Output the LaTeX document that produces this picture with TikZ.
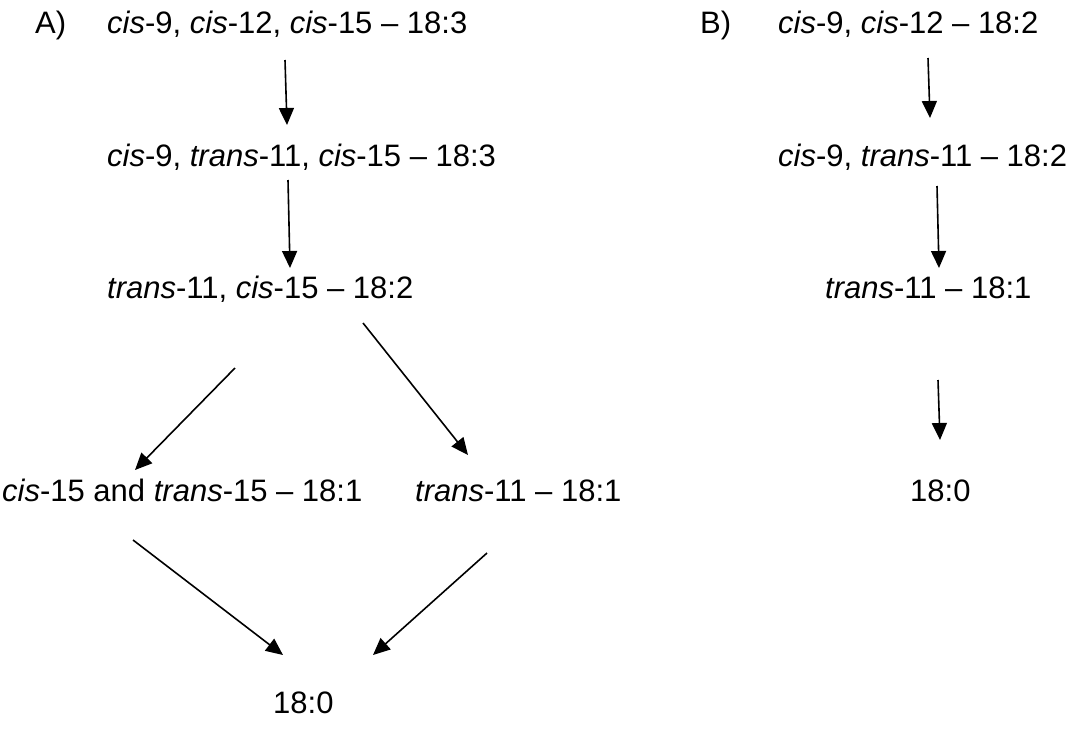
\documentclass[tikz,border=0pt]{standalone}
\usepackage{fontspec}
\setmainfont{Liberation Sans}
\usetikzlibrary{arrows.meta}

\begin{document}
\begin{tikzpicture}[x=1pt,y=-1pt,
  lbl/.style={anchor=base west,inner sep=0pt,font=\fontsize{31}{37}\selectfont},
  conv/.style={line width=1.6pt,-{Triangle[length=17pt,width=15pt]}}]
\useasboundingbox (0,0) rectangle (1087,744);

% panel A
\node[lbl] (tagA) at (35,34) {A)};
\node[lbl] (a1) at (107,34) {\textit{cis}-9, \textit{cis}-12, \textit{cis}-15 -- 18:3};
\node[lbl] (a2) at (107,166) {\textit{cis}-9, \textit{trans}-11, \textit{cis}-15 -- 18:3};
\node[lbl] (a3) at (107,298) {\textit{trans}-11, \textit{cis}-15 -- 18:2};
\node[lbl] (a4) at (2,501) {\textit{cis}-15 and \textit{trans}-15 -- 18:1};
\node[lbl] (a5) at (415,501) {\textit{trans}-11 -- 18:1};
\node[lbl] (a6) at (273,713) {18:0};

% panel B
\node[lbl] (tagB) at (700,34) {B)};
\node[lbl] (b1) at (778,34) {\textit{cis}-9, \textit{cis}-12 -- 18:2};
\node[lbl] (b2) at (778,166) {\textit{cis}-9, \textit{trans}-11 -- 18:2};
\node[lbl] (b3) at (825,298) {\textit{trans}-11 -- 18:1};
\node[lbl] (b4) at (910,501) {18:0};

% arrow end points
\coordinate (a1s) at (285,60);  \coordinate (a2e) at (287,125);
\coordinate (a2s) at (288,180); \coordinate (a3e) at (290,268);
\coordinate (a3l) at (235,368); \coordinate (a4e) at (135,470);
\coordinate (a3r) at (363,323); \coordinate (a5e) at (468,455);
\coordinate (a4s) at (133,540); \coordinate (a6l) at (283,655);
\coordinate (a5s) at (487,553); \coordinate (a6r) at (373,655);
\coordinate (b1s) at (928,58);  \coordinate (b2e) at (930,118);
\coordinate (b2s) at (937,186); \coordinate (b3e) at (939,268);
\coordinate (b3s) at (938,380); \coordinate (b4e) at (940,440);

\draw[conv] (a1s) -- (a2e);
\draw[conv] (a2s) -- (a3e);
\draw[conv] (a3l) -- (a4e);
\draw[conv] (a3r) -- (a5e);
\draw[conv] (a4s) -- (a6l);
\draw[conv] (a5s) -- (a6r);
\draw[conv] (b1s) -- (b2e);
\draw[conv] (b2s) -- (b3e);
\draw[conv] (b3s) -- (b4e);
\end{tikzpicture}
\end{document}
